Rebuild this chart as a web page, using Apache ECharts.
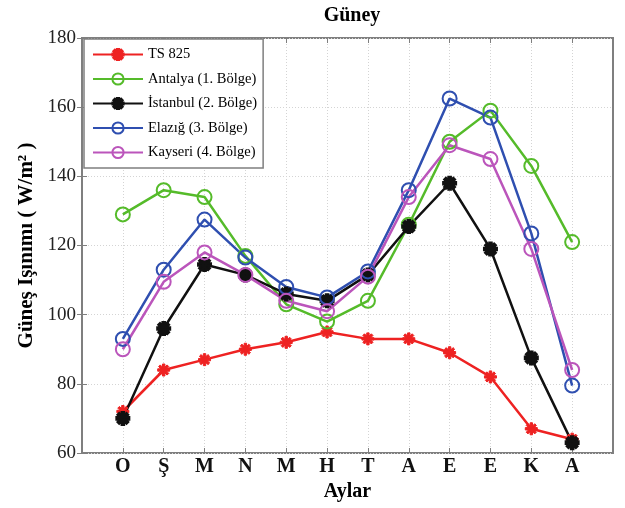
<!DOCTYPE html>
<html>
<head>
<meta charset="utf-8">
<script src="https://cdn.jsdelivr.net/npm/echarts@6/dist/echarts.min.js"></script>
<style>
  html, body { margin: 0; padding: 0; background: #fff; }
  #chart { width: 625px; height: 508px; }
</style>
</head>
<body>
<div id="chart"></div>
<script>
// aylar (x ekseni 1..12 konumlarında)
const months = ['O', 'Ş', 'M', 'N', 'M', 'H', 'T', 'A', 'E', 'E', 'K', 'A'];

const ts825    = [72, 84, 87, 90, 92, 95, 93, 93, 89, 82, 67, 64];
const antalya  = [129, 136, 134, 117, 103, 98, 104, 126, 150, 159, 143, 121];
const istanbul = [70, 96, 114.5, 111.5, 106, 104, 111.5, 125.5, 138, 119, 87.5, 63];
const elazig   = [93, 113, 127.5, 116.5, 108, 105, 112.5, 136, 162.5, 157, 123.5, 79.5];
const kayseri  = [90, 109.5, 118, 111.5, 104, 101, 111, 134, 149, 145, 119, 84];

const yTicks = [60, 80, 100, 120, 140, 160, 180];
const xTicks = [1, 2, 3, 4, 5, 6, 7, 8, 9, 10, 11, 12];

const font = 'Liberation Serif';
const frame = '#7f7f7f';

// MATLAB tarzı yıldız işareti
const asterisk = 'path://M-1,-5h2v10h-2z M-5,-1h10v2h-10z ' +
  'M-2.83,-4.24L4.24,2.83L2.83,4.24L-4.24,-2.83z ' +
  'M-4.24,2.83L2.83,-4.24L4.24,-2.83L-2.83,4.24z';

function toPoints(arr) {
  return arr.map((v, i) => [i + 1, v]);
}

function makeSeries(name, arr, color, symbol, size, bw) {
  const hollow = symbol === 'circle';
  return {
    name: name,
    type: 'line',
    data: toPoints(arr),
    symbol: symbol,
    symbolSize: size,
    showAllSymbol: true,
    lineStyle: { color: color, width: 2.5 },
    itemStyle: { color: hollow ? 'rgba(255,255,255,0)' : color, borderColor: color, borderWidth: bw },
    emphasis: { disabled: true },
    z: 3
  };
}

const chart = echarts.init(document.getElementById('chart'));

const option = {
  backgroundColor: '#fff',
  animation: false,
  title: {
    text: 'Güney',
    left: 347,
    top: 1,
    textAlign: 'center',
    textStyle: { fontFamily: font, fontWeight: 'bold', fontSize: 20, color: '#000' }
  },
  grid: {
    left: 82, right: 12, top: 38, bottom: 55,
    show: true, borderColor: frame, borderWidth: 2, backgroundColor: 'transparent'
  },
  legend: {
    orient: 'vertical',
    left: 84, top: 39,
    padding: [8, 6, 8, 8],
    itemGap: 9.5,
    itemWidth: 50, itemHeight: 14,
    backgroundColor: '#fff',
    borderColor: frame, borderWidth: 1.5,
    textStyle: { fontFamily: font, fontSize: 14.5, color: '#000' },
    data: ['TS 825', 'Antalya (1. Bölge)', 'İstanbul (2. Bölge)', 'Elazığ (3. Bölge)', 'Kayseri (4. Bölge)']
  },
  xAxis: [{
    type: 'value',
    min: 0, max: 13, interval: 1,
    name: 'Aylar',
    nameLocation: 'middle',
    nameGap: 29,
    nameTextStyle: { fontFamily: font, fontWeight: 'bold', fontSize: 20, color: '#000' },
    axisLine: { show: false },
    axisTick: { inside: true, length: 5, lineStyle: { color: frame }, customValues: xTicks },
    axisLabel: {
      fontFamily: font, fontWeight: 'bold', fontSize: 20, color: '#111', margin: 4,
      customValues: xTicks,
      formatter: v => months[v - 1] || ''
    },
    splitLine: { show: true, lineStyle: { color: '#d4d4d4', type: [1, 2], width: 1 } }
  }, {
    type: 'value',
    position: 'top',
    min: 0, max: 13, interval: 1,
    axisLine: { show: false },
    axisTick: { inside: true, length: 5, lineStyle: { color: frame }, customValues: xTicks },
    axisLabel: { show: false },
    splitLine: { show: false }
  }],
  yAxis: [{
    type: 'value',
    min: 60, max: 180, interval: 20,
    name: 'Güneş Işınımı ( W/m² )',
    nameLocation: 'middle',
    nameGap: 43,
    nameTextStyle: { fontFamily: font, fontWeight: 'bold', fontSize: 21, color: '#000' },
    axisLine: { show: false },
    axisTick: { inside: true, length: 5, lineStyle: { color: frame } },
    axisLabel: {
      fontFamily: font, fontSize: 19, color: '#222', margin: 6,
      customValues: yTicks
    },
    splitLine: { show: true, lineStyle: { color: '#d4d4d4', type: [1, 2], width: 1 } }
  }, {
    type: 'value',
    position: 'right',
    min: 60, max: 180, interval: 20,
    axisLine: { show: false },
    axisTick: { inside: true, length: 5, lineStyle: { color: frame } },
    axisLabel: { show: false },
    splitLine: { show: false }
  }],
  series: [
    makeSeries('TS 825', ts825, '#ee2222', asterisk, 12, 1),
    makeSeries('Antalya (1. Bölge)', antalya, '#55bb2a', 'circle', 14, 2),
    makeSeries('İstanbul (2. Bölge)', istanbul, '#111111', asterisk, 13, 2),
    makeSeries('Elazığ (3. Bölge)', elazig, '#2f4fb0', 'circle', 14, 2),
    makeSeries('Kayseri (4. Bölge)', kayseri, '#bb55bb', 'circle', 14, 2)
  ]
};

chart.setOption(option);

window.onresize = function () {
  chart.resize();
};
</script>
</body>
</html>
